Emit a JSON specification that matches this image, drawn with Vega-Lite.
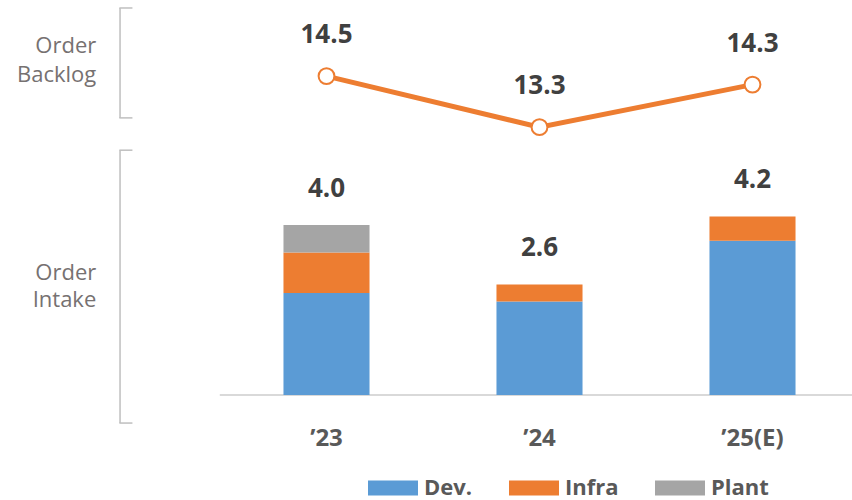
{
  "$schema": "https://vega.github.io/schema/vega-lite/v6.json",
  "width": 852,
  "height": 395,
  "autosize": {"type": "none"},
  "padding": {"left": 0, "top": 0, "right": 0, "bottom": 105},
  "config": {"font": "Open Sans", "view": {"stroke": null}},
  "datasets": {
    "bars": [
      {"year": "’23", "seg": "Dev.", "v": 2.4},
      {"year": "’23", "seg": "Infra", "v": 0.95},
      {"year": "’23", "seg": "Plant", "v": 0.65},
      {"year": "’24", "seg": "Dev.", "v": 2.2},
      {"year": "’24", "seg": "Infra", "v": 0.4},
      {"year": "’25(E)", "seg": "Dev.", "v": 3.63},
      {"year": "’25(E)", "seg": "Infra", "v": 0.57}
    ],
    "totals": [
      {"year": "’23", "total": 4.0},
      {"year": "’24", "total": 2.6},
      {"year": "’25(E)", "total": 4.2}
    ],
    "backlog": [
      {"year": "’23", "v": 14.5},
      {"year": "’24", "v": 13.3},
      {"year": "’25(E)", "v": 14.3}
    ],
    "frame": [{"year": "’23", "year2": "’25(E)", "y": 0}],
    "brackets": [
      {"year": "", "top": 9.106, "bottom": 6.52},
      {"year": "", "top": 5.76, "bottom": -0.66}
    ],
    "bticks": [
      {"year": "", "year2": "", "y": 9.106},
      {"year": "", "year2": "", "y": 6.52},
      {"year": "", "year2": "", "y": 5.76},
      {"year": "", "year2": "", "y": -0.66}
    ],
    "side": [
      {"year": "", "text": "Order", "y": 8.2},
      {"year": "", "text": "Backlog", "y": 7.52},
      {"year": "", "text": "Order", "y": 2.88},
      {"year": "", "text": "Intake", "y": 2.23}
    ]
  },
  "layer": [
    {
      "layer": [
        {
          "data": {"name": "frame"},
          "mark": {"type": "rule", "color": "#d9d9d9", "strokeWidth": 2},
          "encoding": {
            "x": {"field": "year", "type": "nominal", "bandPosition": -0.74,
                  "scale": {"domain": ["", "’23", "’24", "’25(E)"], "range": [7, 859], "paddingInner": 0.596, "paddingOuter": 0.298},
                  "axis": {"title": null, "domain": false, "ticks": false, "labelAngle": 0, "labelFontSize": 24, "labelFontWeight": "bold", "labelColor": "#595959", "labelPadding": 31, "labelFont": "Open Sans"}},
            "x2": {"field": "year2", "bandPosition": 1.7},
            "y": {"field": "y", "type": "quantitative", "scale": {"domain": [0, 9.294], "nice": false, "zero": false}, "axis": null}
          }
        },
        {
          "data": {"name": "brackets"},
          "mark": {"type": "rule", "color": "#bfbfbf", "strokeWidth": 1.5},
          "encoding": {
            "x": {"field": "year", "type": "nominal", "bandPosition": 0.576},
            "y": {"field": "top", "type": "quantitative"},
            "y2": {"field": "bottom"}
          }
        },
        {
          "data": {"name": "bticks"},
          "mark": {"type": "rule", "color": "#bfbfbf", "strokeWidth": 1.5},
          "encoding": {
            "x": {"field": "year", "type": "nominal", "bandPosition": 0.568},
            "x2": {"field": "year2", "bandPosition": 0.72},
            "y": {"field": "y", "type": "quantitative"}
          }
        },
        {
          "data": {"name": "side"},
          "mark": {"type": "text", "align": "right", "baseline": "middle", "fontSize": 22, "color": "#767171", "font": "Open Sans"},
          "encoding": {
            "x": {"field": "year", "type": "nominal", "bandPosition": 0.3},
            "y": {"field": "y", "type": "quantitative"},
            "text": {"field": "text"}
          }
        },
        {
          "data": {"name": "bars"},
          "mark": {"type": "bar"},
          "encoding": {
            "x": {"field": "year", "type": "nominal"},
            "y": {"field": "v", "type": "quantitative", "stack": "zero"},
            "color": {"field": "seg", "type": "nominal",
                      "scale": {"domain": ["Dev.", "Infra", "Plant"], "range": ["#5B9BD5", "#ED7D31", "#A5A5A5"]},
                      "legend": {"title": null, "orient": "none", "legendX": 368, "legendY": 463, "direction": "horizontal",
                                 "symbolType": "M-1,-0.3H1V0.3H-1Z", "symbolSize": 2500, "symbolStrokeWidth": 0, "symbolOpacity": 1,
                                 "labelFontSize": 22, "labelFontWeight": "bold", "labelColor": "#595959", "labelFont": "Open Sans",
                                 "labelOffset": 6, "columnPadding": 36}},
            "order": {"field": "seg", "sort": "ascending"}
          }
        },
        {
          "data": {"name": "totals"},
          "mark": {"type": "text", "baseline": "middle", "dy": -36, "fontSize": 26, "fontWeight": "bold", "color": "#404040", "font": "Open Sans"},
          "encoding": {
            "x": {"field": "year", "type": "nominal"},
            "y": {"field": "total", "type": "quantitative"},
            "text": {"field": "total", "type": "quantitative", "format": ".1f"}
          }
        }
      ]
    },
    {
      "data": {"name": "backlog"},
      "encoding": {
        "x": {"field": "year", "type": "nominal"},
        "y": {"field": "v", "type": "quantitative", "scale": {"domain": [7.0, 16.29], "nice": false, "zero": false}, "axis": null}
      },
      "layer": [
        {"mark": {"type": "line", "color": "#ED7D31", "strokeWidth": 5}},
        {"mark": {"type": "point", "shape": "circle", "filled": true, "fill": "white", "stroke": "#ED7D31", "strokeWidth": 2, "size": 250, "opacity": 1}},
        {
          "mark": {"type": "text", "baseline": "middle", "dy": -41, "fontSize": 26, "fontWeight": "bold", "color": "#404040", "font": "Open Sans"},
          "encoding": {"text": {"field": "v", "type": "quantitative", "format": ".1f"}}
        }
      ]
    }
  ],
  "resolve": {"scale": {"y": "independent"}}
}
